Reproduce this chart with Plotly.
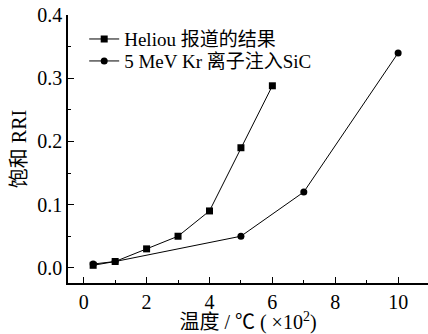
import plotly.graph_objects as go

heliou_x = [0.3, 1, 2, 3, 4, 5, 6]
heliou_y = [0.004, 0.01, 0.03, 0.05, 0.09, 0.19, 0.288]
kr_x = [0.3, 1, 5, 7, 10]
kr_y = [0.006, 0.01, 0.05, 0.12, 0.34]

names = ["Heliou 报道的结果", "5 MeV Kr 离子注入SiC"]
x_title = "温度 / ℃ ( ×10<sup>2</sup>)"
y_title = "饱和 RRI"

FONT = "Liberation Serif, Times New Roman, Noto Sans CJK SC, serif"

fig = go.Figure()
fig.add_trace(go.Scatter(x=heliou_x, y=heliou_y, mode="lines+markers", name=names[0],
                         line=dict(color="black", width=1), legend="legend",
                         marker=dict(symbol="square", size=7, color="black")))
fig.add_trace(go.Scatter(x=kr_x, y=kr_y, mode="lines+markers", name=names[1],
                         line=dict(color="black", width=1), legend="legend2",
                         marker=dict(symbol="circle", size=7, color="black")))

axis_common = dict(showline=True, linecolor="black", linewidth=1.5, mirror=False,
                   ticks="inside", ticklen=6, tickwidth=1, tickcolor="black",
                   showgrid=False, zeroline=False,
                   tickfont=dict(family=FONT, size=20, color="black"))

fig.update_xaxes(range=[-0.5, 10.95], tick0=0, dtick=2,
                 minor=dict(ticks="inside", ticklen=3, dtick=1, tick0=0, tickcolor="black"),
                 title=dict(text=x_title, font=dict(family=FONT, size=20, color="black"), standoff=5),
                 **axis_common)
fig.update_yaxes(range=[-0.024, 0.4], tick0=0, dtick=0.1, tickformat=".1f",
                 minor=dict(ticks="inside", ticklen=3, dtick=0.05, tick0=0, tickcolor="black"),
                 title=dict(text=y_title, font=dict(family=FONT, size=20, color="black"), standoff=5),
                 **axis_common)

leg_common = dict(x=0.045, xanchor="left", yanchor="middle",
                  bgcolor="rgba(0,0,0,0)", itemwidth=30,
                  font=dict(family=FONT, size=19, color="black"))

fig.update_layout(
    width=428, height=334,
    margin=dict(l=68, r=0, t=15, b=51),
    paper_bgcolor="white", plot_bgcolor="white",
    showlegend=True,
    legend=dict(y=0.910, **leg_common),
    legend2=dict(y=0.828, **leg_common),
)

fig.write_html("out.html")
